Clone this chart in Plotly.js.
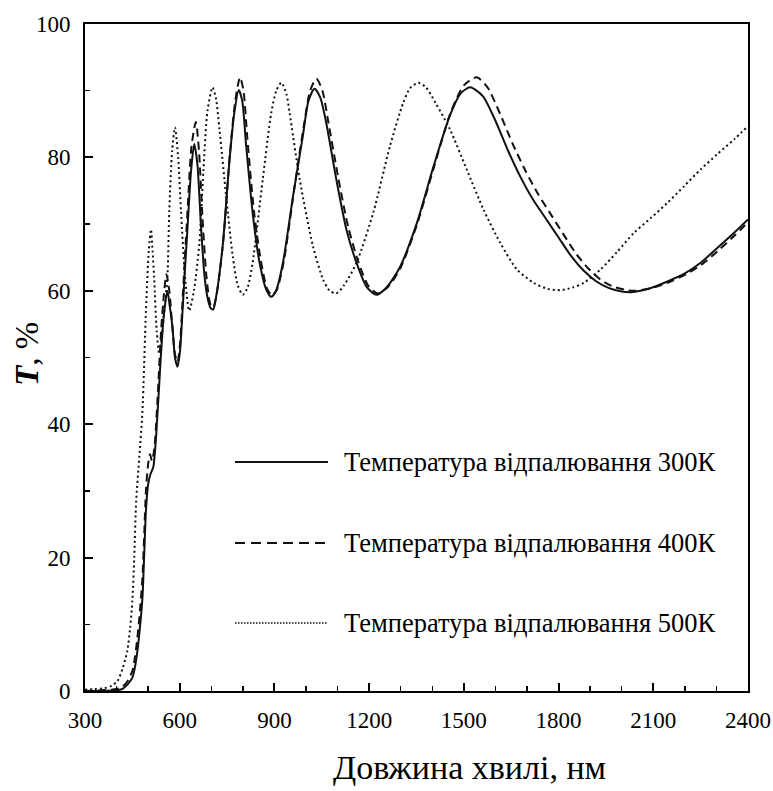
<!DOCTYPE html>
<html>
<head>
<meta charset="utf-8">
<script src="https://cdn.plot.ly/plotly-3.0.1.min.js"></script>
<style>html,body{margin:0;padding:0;background:#fff;}#chart{width:773px;height:791px;}</style>
</head>
<body>
<div id="chart"></div>
<script>
// Wavelength (nm) and transmittance T (%)
var x300 = [300,350,400,418,435,450,458,466,474,482,488,493,500,508,516,525,540,550,561,569,577,585,593,601,609,617,625,636,646,656,667,678,688,698,706,715,736,757,773,787,798,810,831,853,874,890,905,927,959,990,1008,1027,1045,1064,1096,1128,1160,1192,1223,1255,1297,1350,1403,1456,1490,1520,1560,1600,1640,1680,1720,1760,1800,1840,1880,1920,1960,2000,2030,2085,2145,2200,2250,2300,2356,2400];
var t300 = [0,0,0.1,0.3,1,2,3.5,6,9.5,14,21,27,31,32.6,33.5,38,50,56.5,60,57.5,54.6,50,48.6,51,57,63.5,69.7,78,82,79,70,62.5,59,57.4,57.2,59,66.7,79.2,86.7,90.1,88.5,82,71.7,64.2,60.2,59.1,60,64.2,74.2,83.2,88.5,90.3,89,85.2,76.7,69.2,64.2,60.6,59.4,60.5,63.5,70,78.5,86.3,89.6,90.5,89.2,85.5,81,77,73.6,70.8,68,65.2,63,61.4,60.4,59.9,59.8,60.3,61.4,62.6,64.2,66.3,68.7,70.7];

var x400 = [300,350,400,418,435,450,458,466,474,482,488,493,500,506,512,520,530,541,550,558,567,576,585,593,601,609,617,626,637,651,661,672,685,697,706,717,738,759,776,791,802,814,835,857,877,893,908,930,962,994,1013,1033,1052,1070,1102,1134,1166,1198,1228,1260,1300,1352,1405,1458,1500,1541,1575,1615,1655,1695,1735,1775,1815,1855,1895,1935,1975,2015,2045,2095,2150,2205,2255,2305,2360,2400];
var t400 = [0,0.1,0.3,0.6,1.5,3,5,8,12,17,24,30,34,35.5,34.5,36.5,44,54,59.5,62.5,60,55,50.5,49.3,52,58.5,65.5,73,81.5,85.3,81,71,62,58,57.5,59.5,67.5,80.5,88.5,92,90,83,72,64.5,60.3,59.3,60.2,64.5,75,85,90,91.8,90,85.5,77,69.5,64.3,60.7,59.6,60.6,63.5,70,78.5,86.7,90.8,92,90.5,86.5,82,78,74.5,71.5,68.5,65.6,63.3,61.6,60.6,60.1,60,60.4,61.3,62.5,64,66,68.4,70.3];

var x500 = [300,330,360,385,403,420,434,443,450,456,462,472,482,493,502,509,514,519,527,535,545,555,561,567,576,585,595,604,617,630,645,662,675,688,704,715,726,747,768,784,800,815,831,863,890,906,922,938,948,980,1022,1054,1075,1096,1120,1160,1213,1266,1308,1330,1356,1380,1410,1456,1509,1562,1615,1668,1721,1765,1806,1845,1880,1933,1985,2039,2092,2145,2198,2250,2303,2356,2400];
var t500 = [0.2,0.3,0.4,0.8,1.5,3.5,6,9.5,13.5,20,28.5,35,42,57,66,69.2,66,62,54,50.6,54,59,62,72,81,84.5,80,72,62,57,60,67,78,87,90.5,88.8,84.2,74.2,65.2,60.8,59.4,60.5,64.2,76.7,86.7,90,91.2,89.5,86.7,76.7,66.7,61.7,60,59.6,60.8,64.2,71.7,81.7,88.2,90.4,91.2,90.5,88.2,84.2,78.2,72.2,67.2,63.2,61.2,60.3,60.1,60.5,61.2,63.2,65.8,68.7,70.9,73.2,75.7,78.2,80.5,82.7,84.7];

var seriesNames = ["Температура відпалювання 300К", "Температура відпалювання 400К", "Температура відпалювання 500К"];
var xTickVals = [300,600,900,1200,1500,1800,2100,2400];
var yTickVals = [0,20,40,60,80,100];
var xTitle = "Довжина хвилі, нм";
var yTitle = "<b><i>T</i></b>, %";

var lineColor = "#111";
var dashes = ["solid", "8px,5px", "2px,3px"];
var legendDashes = ["solid", "10px,6px", "1.5px,1.5px"];
var xs = [x300, x400, x500];
var ts = [t300, t400, t500];

var traces = xs.map(function(xv, i) {
  return {
    x: xv, y: ts[i], type: "scatter", mode: "lines", name: seriesNames[i],
    line: {color: lineColor, width: 2, dash: dashes[i], shape: "spline", smoothing: 0.7},
    showlegend: false, hoverinfo: "skip"
  };
});

var font = "Times New Roman, serif";
var L = 85, R = 748, T = 24, B = 691;
function px2x(p) { return (p - L) / (R - L); }
function px2y(p) { return (B - p) / (B - T); }

var legendRows = [462, 543, 623];
var shapes = [];
var annotations = [];
legendRows.forEach(function(py, i) {
  shapes.push({type: "line", xref: "paper", yref: "paper",
    x0: px2x(235), x1: px2x(328), y0: px2y(py), y1: px2y(py),
    line: {color: lineColor, width: i === 2 ? 1.5 : 1.8, dash: legendDashes[i]}});
  annotations.push({xref: "paper", yref: "paper", x: px2x(342), y: px2y(py),
    xanchor: "left", yanchor: "middle", showarrow: false, text: seriesNames[i],
    font: {family: font, size: 26.5, color: "#000"}});
});
annotations.push({xref: "paper", yref: "paper", x: px2x(469), y: px2y(767),
  xanchor: "center", yanchor: "middle", showarrow: false, text: xTitle,
  font: {family: font, size: 34, color: "#000"}});
annotations.push({xref: "paper", yref: "paper", x: px2x(27), y: px2y(354),
  xanchor: "center", yanchor: "middle", showarrow: false, text: yTitle, textangle: -90,
  font: {family: font, size: 33, color: "#000"}});

var layout = {
  width: 773, height: 791,
  margin: {l: L, r: 773 - R, t: T, b: 791 - B, pad: 0},
  paper_bgcolor: "#fff", plot_bgcolor: "#fff",
  showlegend: false,
  font: {family: font, size: 22, color: "#000"},
  xaxis: {
    range: [300, 2400], tickvals: xTickVals, ticktext: xTickVals.map(String),
    showgrid: false, zeroline: false,
    showline: true, linecolor: "#000", linewidth: 2, mirror: true,
    ticks: "inside", ticklen: 8, tickwidth: 2, tickcolor: "#000",
    minor: {dtick: 100, tick0: 300, ticks: "inside", ticklen: 5, tickwidth: 1.5, tickcolor: "#000", showgrid: false},
    ticklabelstandoff: 7,
    tickfont: {family: font, size: 23, color: "#000"}
  },
  yaxis: {
    range: [0, 100], tickvals: yTickVals, ticktext: yTickVals.map(String),
    showgrid: false, zeroline: false,
    showline: true, linecolor: "#000", linewidth: 2, mirror: true,
    ticks: "inside", ticklen: 8, tickwidth: 2, tickcolor: "#000",
    minor: {dtick: 10, tick0: 0, ticks: "inside", ticklen: 5, tickwidth: 1.5, tickcolor: "#000", showgrid: false},
    ticklabelstandoff: 8,
    tickfont: {family: font, size: 23, color: "#000"}
  },
  shapes: shapes,
  annotations: annotations
};

Plotly.newPlot("chart", traces, layout, {staticPlot: true, displayModeBar: false});
</script>
</body>
</html>
